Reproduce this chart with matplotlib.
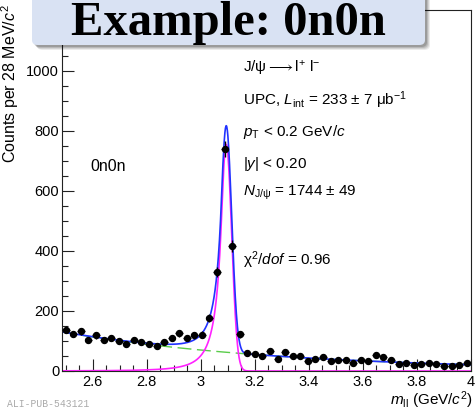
#!/usr/bin/env python3

import numpy as np
import matplotlib
matplotlib.use("Agg")
import matplotlib.pyplot as plt
from matplotlib.patches import FancyBboxPatch
from matplotlib.ticker import MultipleLocator

# --- data ------------------------------------------------------------------
bin_first = 2.500      # centre of the first 28 MeV bin (GeV/c^2)
bin_width = 0.028
counts = [137, 123, 132, 103, 119, 103, 109, 100, 90, 103,
          98, 91, 83, 97, 109, 126, 109, 119, 121, 176,
          330, 739, 417, 122, 61, 57, 51, 67, 41, 62,
          50, 50, 33, 41, 46, 33, 36, 36, 28, 36,
          33, 52, 47, 37, 22, 27, 20, 22, 27, 22,
          17, 17, 20, 28]

# fit components (Crystal Ball signal + exponential background)
sig_amp = 755.0
sig_mean = 3.094
sig_sigma = 0.020
sig_alpha = 0.9
sig_n = 3.0
bkg_amp = 130.0
bkg_slope = 1.207

x_min, x_max = 2.486, 4.0
y_min, y_max = 0, 1203

text_lines = [
    "J/ψ$\\longrightarrow$l$^{+}$ l$^{-}$",
    "UPC, $L_{\\rm int}$ = 233 ± 7 μb$^{-1}$",
    "$p_{\\rm T}$ < 0.2 GeV/$c$",
    "|$y$| < 0.20",
    "$N_{\\rm J/ψ}$ = 1744 ± 49",
    "χ$^{2}$/$dof$ = 0.96",
]
text_ypix = [68, 100, 132, 164, 193, 260]


def crystal_ball(x, amp, mean, sigma, alpha, n):
    t = (x - mean) / sigma
    a = (n / alpha) ** n * np.exp(-0.5 * alpha ** 2)
    b = n / alpha - alpha
    out = np.exp(-0.5 * t ** 2)
    tail = t < -alpha
    out[tail] = a * (b - t[tail]) ** (-n)
    return amp * out


def background(x):
    return bkg_amp * np.exp(-bkg_slope * (x - x_min))


plt.rcParams['font.family'] = ['Liberation Sans', 'DejaVu Sans']
plt.rcParams['mathtext.fontset'] = 'custom'
plt.rcParams['mathtext.rm'] = 'Liberation Sans'
plt.rcParams['mathtext.it'] = 'Liberation Sans:italic'
plt.rcParams['mathtext.bf'] = 'Liberation Sans:bold'

W, H = 475, 412
fig = plt.figure(figsize=(W / 100, H / 100), dpi=100)
ax = fig.add_axes([62 / W, 1 - 371 / H, (471 - 62) / W, (371 - 10) / H])

# fit curves
xs = np.linspace(x_min, x_max, 1500)
sig = crystal_ball(xs, sig_amp, sig_mean, sig_sigma, sig_alpha, sig_n)
bkg = background(xs)
ax.plot(xs, bkg, color='#5acc4a', lw=1.0, dashes=(10, 4))
ax.plot(xs, sig, color='#ff22ff', lw=1.2)
ax.plot(xs, sig + bkg, color='#2233ff', lw=1.2)

# data points
counts = np.array(counts, dtype=float)
mass = bin_first + bin_width * np.arange(len(counts))
ax.errorbar(mass, counts, xerr=bin_width / 2, yerr=np.sqrt(counts),
            fmt='o', color='black', ms=4.3, elinewidth=1.0, capsize=0, zorder=5)

ax.set_xlim(x_min, x_max)
ax.set_ylim(y_min, y_max)
ax.xaxis.set_minor_locator(MultipleLocator(0.05))
ax.yaxis.set_minor_locator(MultipleLocator(50))
ax.set_xticks([2.6, 2.8, 3.0, 3.2, 3.4, 3.6, 3.8, 4.0])
ax.set_xticklabels(['2.6', '2.8', '3', '3.2', '3.4', '3.6', '3.8', '4'])
ax.set_yticks([0, 200, 400, 600, 800, 1000])
ax.tick_params(which='both', direction='in', top=False, right=False,
               labelsize=10.5, width=0.8, color='#222222')
ax.tick_params(which='major', length=8.6)
ax.tick_params(which='minor', length=4.3)
ax.tick_params(axis='x', pad=3)
ax.tick_params(axis='y', pad=2)
for s in ax.spines.values():
    s.set_linewidth(0.8)
    s.set_color('#222222')

# labels
fig.text(10 / W, 1 - 4 / H, r"Counts per 28 MeV/$c^{2}$", rotation=90,
         ha='center', va='top', fontsize=11.5)
fig.text(473 / W, 1 - 400 / H, r"$m_{\rm ll}$ (GeV/$c^{2}$)",
         ha='right', va='center', fontsize=11)
fig.text(7 / W, 1 - 404 / H, "ALI-PUB-543121", family='Liberation Mono',
         color='#aaaaaa', fontsize=7, ha='left', va='center')

fig.text(90 / W, 1 - 166 / H, "0n0n", fontsize=11.5, ha='left', va='center')
for line, yp in zip(text_lines, text_ypix):
    fig.text(243 / W, 1 - yp / H, line, fontsize=11, ha='left', va='center')

# title banner with a soft shadow
bx0, bx1, by1 = 32, 425, 45
for i, alpha in enumerate([0.08, 0.10, 0.12, 0.16]):
    off = 5 - i
    shadow = FancyBboxPatch(((bx0 + off) / W, 1 - (by1 + off) / H),
                            (bx1 - bx0) / W, (by1 + 20) / H,
                            boxstyle="round,pad=0,rounding_size=0.012",
                            transform=fig.transFigure, facecolor='#000000',
                            edgecolor='none', alpha=alpha, zorder=10)
    fig.patches.append(shadow)
banner = FancyBboxPatch((bx0 / W, 1 - by1 / H), (bx1 - bx0) / W, (by1 + 20) / H,
                        boxstyle="round,pad=0,rounding_size=0.012",
                        transform=fig.transFigure, facecolor='#d9e2f3',
                        edgecolor='none', zorder=11)
fig.patches.append(banner)
fig.text(228 / W, 1 - 35 / H, "Example: 0n0n", family='Liberation Serif',
         weight='bold', fontsize=35, ha='center', va='baseline', zorder=12)

fig.savefig("out.png", dpi=100)
